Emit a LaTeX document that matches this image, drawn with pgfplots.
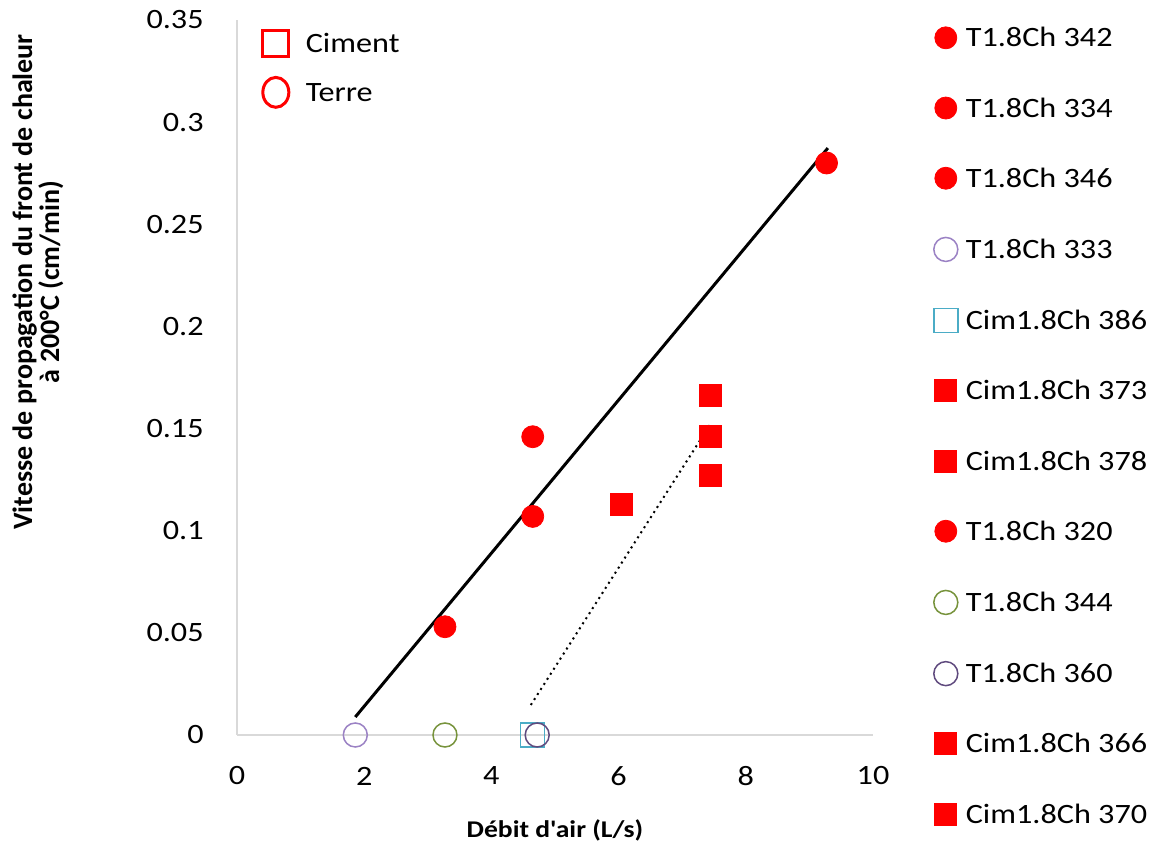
\documentclass[border=0pt]{standalone}
\usepackage{fontspec}
\setmainfont{Carlito}[FakeStretch=1.15]
\newfontfamily\plainfont{Carlito}
\usepackage{pgfplots}
\pgfplotsset{compat=1.18}
\definecolor{axgray}{HTML}{D9D9D9}
\definecolor{lpurple}{HTML}{9B82C4}
\definecolor{dpurple}{HTML}{5F4A7E}
\definecolor{olive}{HTML}{77933C}
\definecolor{aqua}{HTML}{4BACC6}
\begin{document}
\begin{tikzpicture}
\path[use as bounding box] (-118.5pt,-57pt) rectangle (457pt,367.5pt);
\pgfplotsset{
  redcirc/.style={only marks, mark=*, mark size=5.5pt, draw=red, fill=red},
  redsq/.style={only marks, mark=square*, mark size=5.5pt, draw=red, fill=red},
  opencirc/.style={only marks, mark=o, mark size=6pt, line width=0.75pt, draw=#1},
  opensq/.style={only marks, mark=square, mark size=6pt, line width=0.75pt, draw=#1},
}
\begin{axis}[
  width=318pt, height=357.5pt, scale only axis,
  xmin=0, xmax=10, ymin=0, ymax=0.35,
  xtick={0,2,4,6,8,10},
  ytick={0,0.05,0.1,0.15,0.2,0.25,0.3,0.35},
  yticklabels={0,0.05,0.1,0.15,0.2,0.25,0.3,0.35},
  axis lines*=left,
  axis line style={draw=axgray, line width=0.75pt, -},
  major tick length=0pt,
  tick label style={font=\fontsize{14}{16}\selectfont},
  /pgf/number format/assume math mode=true,
  xticklabel style={anchor=center, yshift=-20.5pt, inner sep=0pt},
  yticklabel style={anchor=east, xshift=-16.5pt, inner sep=0pt},
  every axis x label/.style={at={(axis description cs:0.5,-0.1329)}, anchor=center, font=\bfseries\fontsize{12}{13}\selectfont},
  every axis y label/.style={at={(axis description cs:-0.313,0.6336)}, rotate=90, anchor=center, align=center, font=\plainfont\bfseries\fontsize{14}{13.5}\selectfont},
  xlabel={Débit d\textquotesingle air (L/s)},
  ylabel={Vitesse de propagation du front de chaleur\\à 200°C (cm/min)},
  legend image code/.code={\draw[#1] plot coordinates {(0pt,4.5pt)};},
  legend cell align=left,
  legend style={at={(axis description cs:1.095,0.991)}, anchor=north west, draw=none, fill=none,
    inner sep=0pt, row sep=22.1pt, font=\fontsize{14}{16}\selectfont,
    nodes={inner sep=0pt, text height=10pt, text depth=3pt, anchor=base west},
    column sep=4pt},
  clip=false,
]
\addplot[black, line width=1.5pt, forget plot] coordinates {(1.86,0.0088) (9.29,0.2873)};
\addplot[black, line width=1pt, dotted, forget plot] coordinates {(4.62,0.0147) (7.44,0.152)};
\addplot[redcirc] coordinates {(9.27,0.280)};
\addlegendentry{T1.8Ch 342}
\addplot[redcirc] coordinates {(4.65,0.146)};
\addlegendentry{T1.8Ch 334}
\addplot[redcirc] coordinates {(4.65,0.107)};
\addlegendentry{T1.8Ch 346}
\addplot[opencirc=lpurple] coordinates {(1.86,0)};
\addlegendentry{T1.8Ch 333}
\addplot[opensq=aqua] coordinates {(4.65,0)};
\addlegendentry{Cim1.8Ch 386}
\addplot[redsq] coordinates {(7.45,0.166)};
\addlegendentry{Cim1.8Ch 373}
\addplot[redsq] coordinates {(7.45,0.146)};
\addlegendentry{Cim1.8Ch 378}
\addplot[redcirc] coordinates {(3.27,0.053)};
\addlegendentry{T1.8Ch 320}
\addplot[opencirc=olive] coordinates {(3.27,0)};
\addlegendentry{T1.8Ch 344}
\addplot[opencirc=dpurple] coordinates {(4.72,0)};
\addlegendentry{T1.8Ch 360}
\addplot[redsq] coordinates {(6.05,0.113)};
\addlegendentry{Cim1.8Ch 366}
\addplot[redsq] coordinates {(7.45,0.127)};
\addlegendentry{Cim1.8Ch 370}
\end{axis}
\begin{axis}[
  width=318pt, height=357.5pt, scale only axis, hide axis,
  xmin=0, xmax=10, ymin=0, ymax=0.35,
  legend image code/.code={\draw[#1] plot coordinates {(0pt,4.5pt)};},
  legend cell align=left,
  legend style={at={(axis description cs:0.04,0.986)}, anchor=north west, draw=none, fill=none,
    inner sep=0pt, row sep=9.5pt, font=\fontsize{14}{16}\selectfont,
    nodes={inner sep=0pt, text height=10pt, text depth=3pt, anchor=base west},
    column sep=8.5pt},
]
\addlegendimage{only marks, mark=square, mark size=6.5pt, line width=1.5pt, red}
\addlegendentry{Ciment}
\addlegendimage{only marks, mark=o, mark size=6.5pt, line width=1.5pt, red, mark options={yscale=1.15}}
\addlegendentry{Terre}
\end{axis}
\end{tikzpicture}
\end{document}
